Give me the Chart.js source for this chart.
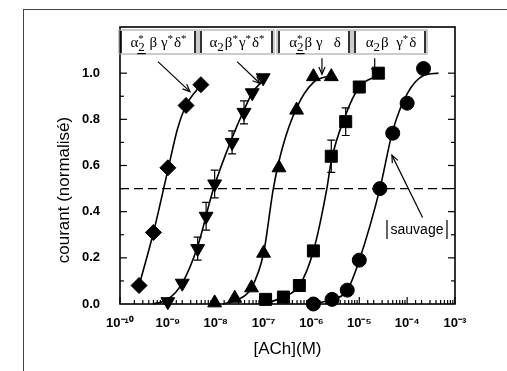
<!DOCTYPE html>
<html>
<head>
<meta charset="utf-8">
<script src="https://cdn.jsdelivr.net/npm/chart.js@4.4.1/dist/chart.umd.min.js"></script>
<style>
  body { margin: 0; background: #fff; }
  #wrap { position: relative; width: 507px; height: 371px; overflow: hidden; }
  #frame { position: absolute; left: 23px; top: 9px; right: 0; bottom: 0;
           border-top: 1.5px solid #444; border-left: 1.5px solid #444; }
  #c { position: absolute; left: 0; top: 0; }
</style>
</head>
<body>
<div id="wrap">
  <div id="frame"></div>
  <canvas id="c" width="507" height="371"></canvas>
</div>
<script>
// courbes dose-réponse ACh
const xTickLabels = ['10⁻¹⁰', '10⁻⁹', '10⁻⁸', '10⁻⁷', '10⁻⁶', '10⁻⁵', '10⁻⁴', '10⁻³'];
const yTickLabels = ['0.0', '0.2', '0.4', '0.6', '0.8', '1.0'];
const halfLevel = 0.5;

// α2*βγ*δ* (losanges)
const concA = [2.5e-10, 5e-10, 1e-9, 2.4e-9, 4.9e-9];
const respA = [0.08, 0.31, 0.59, 0.86, 0.95];
const errA  = [0, 0, 0, 0, 0];
const fitConcA = [2.5e-10, 5e-10, 1e-9, 1.6e-9, 2.4e-9, 4.9e-9];
const fitRespA = [0.08, 0.31, 0.58, 0.76, 0.86, 0.95];

// α2β*γ*δ* (triangles vers le bas)
const concB = [1e-9, 2e-9, 4.2e-9, 6.3e-9, 9.5e-9, 2.2e-8, 3.9e-8, 5.8e-8, 9.8e-8];
const respB = [0.01, 0.09, 0.24, 0.38, 0.52, 0.70, 0.83, 0.915, 0.98];
const errB  = [0, 0, 0.05, 0.06, 0.06, 0.05, 0.05, 0, 0];
const fitConcB = [5e-10, 1e-9, 2e-9, 4.2e-9, 9e-9, 2.2e-8, 3.9e-8, 6e-8, 1e-7];
const fitRespB = [0.0, 0.02, 0.09, 0.25, 0.50, 0.72, 0.84, 0.92, 0.97];

// α2*βγδ (triangles)
const concC = [9.5e-9, 2.5e-8, 5.6e-8, 1e-7, 2.1e-7, 4.9e-7, 1.1e-6, 2.6e-6];
const respC = [0.005, 0.025, 0.07, 0.22, 0.59, 0.84, 0.985, 0.985];
const errC  = [0, 0, 0, 0, 0, 0, 0, 0];
const fitConcC = [1.4e-8, 3e-8, 5.6e-8, 1e-7, 1.6e-7, 2.5e-7, 4.9e-7, 1.1e-6, 2.6e-6];
const fitRespC = [0.0, 0.02, 0.07, 0.22, 0.50, 0.68, 0.85, 0.96, 0.99];

// α2βγ*δ (carrés)
const concD = [1.1e-7, 2.6e-7, 5.6e-7, 1.1e-6, 2.6e-6, 5.2e-6, 1e-5, 2.5e-5];
const respD = [0.02, 0.03, 0.08, 0.23, 0.64, 0.79, 0.94, 1.0];
const errD  = [0, 0, 0, 0, 0.07, 0.06, 0, 0];
const fitConcD = [1e-7, 2.6e-7, 5.6e-7, 1.1e-6, 2.1e-6, 2.6e-6, 5.2e-6, 1e-5, 2.5e-5];
const fitRespD = [0.0, 0.03, 0.08, 0.23, 0.50, 0.62, 0.82, 0.94, 0.99];

// sauvage (cercles)
const concE = [1.1e-6, 2.7e-6, 5.6e-6, 1e-5, 2.7e-5, 5e-5, 1e-4, 2.2e-4];
const respE = [0.0, 0.02, 0.06, 0.19, 0.50, 0.74, 0.87, 1.02];
const errE  = [0, 0, 0, 0, 0, 0, 0, 0];
const fitConcE = [1e-6, 2.7e-6, 5.6e-6, 1e-5, 2.7e-5, 5e-5, 1e-4, 2.2e-4, 4.5e-4];
const fitRespE = [0.0, 0.02, 0.06, 0.19, 0.50, 0.75, 0.91, 0.99, 1.0];

const sans = '"Liberation Sans", Arial, sans-serif';
const serif = '"Liberation Serif", "DejaVu Serif", serif';

const pts = (xs, ys) => xs.map((x, i) => ({ x: x, y: ys[i] }));

function fitLine(xs, ys) {
  return {
    data: pts(xs, ys), showLine: true, pointRadius: 0, borderColor: '#000',
    borderWidth: 1.6, cubicInterpolationMode: 'monotone', clip: false
  };
}
function markers(xs, ys, style, radius, rotation) {
  return {
    data: pts(xs, ys), showLine: false, pointStyle: style, pointRadius: radius,
    pointRotation: rotation || 0, backgroundColor: '#000', borderColor: '#000',
    borderWidth: 1, clip: false
  };
}

const series = [
  { conc: concA, resp: respA, err: errA },
  { conc: concB, resp: respB, err: errB },
  { conc: concC, resp: respC, err: errC },
  { conc: concD, resp: respD, err: errD },
  { conc: concE, resp: respE, err: errE }
];

// étiquettes des sous-unités (α, β, γ, δ avec indices / exposants)
const labelBoxes = [
  { x0: 119, x1: 197, parts: [{ t: 'α' }, { sub: '2', sup: '*', ul: true }, { t: ' β γ' }, { sup: '*' }, { t: 'δ' }, { sup: '*' }] },
  { x0: 199, x1: 274, parts: [{ t: 'α' }, { sub: '2' }, { t: 'β' }, { sup: '*' }, { t: 'γ' }, { sup: '*' }, { t: 'δ' }, { sup: '*' }] },
  { x0: 277, x1: 351, parts: [{ t: 'α' }, { sub: '2', sup: '*', ul: true }, { t: 'β γ   δ' }] },
  { x0: 353, x1: 427, parts: [{ t: 'α' }, { sub: '2' }, { t: 'β  γ' }, { sup: '*' }, { t: 'δ' }] }
];
const arrows = [
  [6.2e-10, 1.05, 2.9e-9, 0.92],
  [2.8e-8, 1.05, 8.4e-8, 0.955],
  [1.66e-6, 1.065, 1.66e-6, 0.995],
  [2.1e-5, 1.065, 2.1e-5, 0.99],
  [2.1e-4, 0.375, 4.8e-5, 0.645]
];

function drawFormula(ctx, parts, cx, base) {
  const big = '15px ' + serif, subF = '13px ' + serif, supF = '11px ' + serif;
  let w = 0;
  parts.forEach(p => {
    if (p.t) { ctx.font = big; p.w = ctx.measureText(p.t).width; }
    else {
      ctx.font = subF; const a = p.sub ? ctx.measureText(p.sub).width : 0;
      ctx.font = supF; const b = p.sup ? ctx.measureText(p.sup).width : 0;
      p.w = Math.max(a, b) + 1;
    }
    w += p.w;
  });
  let x = cx - w / 2;
  ctx.textAlign = 'left';
  ctx.textBaseline = 'alphabetic';
  parts.forEach(p => {
    if (p.t) { ctx.font = big; ctx.fillText(p.t, x, base); }
    else {
      if (p.sub) {
        ctx.font = subF; ctx.fillText(p.sub, x, base + 4);
        if (p.ul) { ctx.fillRect(x - 1, base + 6, p.w + 1, 1.2); }
      }
      if (p.sup) { ctx.font = supF; ctx.fillText(p.sup, x, base - 5); }
    }
    x += p.w;
  });
}

function drawArrow(ctx, x0, y0, x1, y1) {
  ctx.beginPath(); ctx.moveTo(x0, y0); ctx.lineTo(x1, y1); ctx.stroke();
  const ang = Math.atan2(y1 - y0, x1 - x0), L = 8;
  ctx.beginPath();
  ctx.moveTo(x1 - L * Math.cos(ang - 0.4), y1 - L * Math.sin(ang - 0.4));
  ctx.lineTo(x1, y1);
  ctx.lineTo(x1 - L * Math.cos(ang + 0.4), y1 - L * Math.sin(ang + 0.4));
  ctx.stroke();
}

const decorations = {
  id: 'decorations',
  afterDraw(chart) {
    const ctx = chart.ctx, a = chart.chartArea;
    const xs = chart.scales.x, ys = chart.scales.y;
    ctx.save();
    ctx.strokeStyle = '#000'; ctx.fillStyle = '#000';

    // cadre
    ctx.lineWidth = 1.6;
    ctx.strokeRect(a.left, a.top, a.right - a.left, a.bottom - a.top);

    // graduations intérieures
    ctx.lineWidth = 1.2;
    xs.ticks.forEach(t => {
      const px = xs.getPixelForValue(t.value);
      const major = Math.abs(Math.log10(t.value) - Math.round(Math.log10(t.value))) < 1e-6;
      const len = major ? 7 : 4;
      ctx.beginPath(); ctx.moveTo(px, a.bottom); ctx.lineTo(px, a.bottom - len); ctx.stroke();
    });
    ys.ticks.forEach(t => {
      const k = Math.round(t.value * 10);
      if (k > 10 || k === 0) return;
      const py = ys.getPixelForValue(t.value);
      const len = k % 2 === 0 ? 7 : 4;
      ctx.beginPath(); ctx.moveTo(a.left, py); ctx.lineTo(a.left + len, py); ctx.stroke();
      ctx.beginPath(); ctx.moveTo(a.right, py); ctx.lineTo(a.right - len, py); ctx.stroke();
    });

    // barres d'erreur
    ctx.lineWidth = 1.2;
    series.forEach(s => {
      s.err.forEach((e, i) => {
        if (!e) return;
        const px = xs.getPixelForValue(s.conc[i]);
        const yt = ys.getPixelForValue(s.resp[i] + e);
        const yb = ys.getPixelForValue(s.resp[i] - e);
        ctx.beginPath();
        ctx.moveTo(px, yt); ctx.lineTo(px, yb);
        ctx.moveTo(px - 4, yt); ctx.lineTo(px + 4, yt);
        ctx.moveTo(px - 4, yb); ctx.lineTo(px + 4, yb);
        ctx.stroke();
      });
    });

    // boîtes d'étiquettes
    labelBoxes.forEach(b => {
      ctx.strokeStyle = '#999'; ctx.lineWidth = 1;
      ctx.strokeRect(b.x0, 30, b.x1 - b.x0, 24);
      ctx.strokeStyle = '#000'; ctx.lineWidth = 1.6;
      ctx.beginPath();
      ctx.moveTo(b.x0 + 2, 31); ctx.lineTo(b.x0 + 2, 53);
      ctx.moveTo(b.x1 - 2, 31); ctx.lineTo(b.x1 - 2, 53);
      ctx.stroke();
      drawFormula(ctx, b.parts, (b.x0 + b.x1) / 2 + 1, 47);
    });

    // flèches
    ctx.strokeStyle = '#000'; ctx.lineWidth = 1.2;
    arrows.forEach(r => {
      drawArrow(ctx, xs.getPixelForValue(r[0]), ys.getPixelForValue(r[1]),
                xs.getPixelForValue(r[2]), ys.getPixelForValue(r[3]));
    });

    // étiquette "sauvage"
    ctx.font = '14px ' + sans;
    ctx.textAlign = 'center'; ctx.textBaseline = 'middle';
    ctx.fillText('sauvage', 417, 230);
    ctx.lineWidth = 1.2;
    ctx.beginPath();
    ctx.moveTo(387, 220); ctx.lineTo(387, 239);
    ctx.moveTo(447, 220); ctx.lineTo(447, 239);
    ctx.stroke();

    // titre de l'axe y
    ctx.save();
    ctx.translate(64, 190);
    ctx.rotate(-Math.PI / 2);
    ctx.font = '17px ' + sans;
    ctx.textAlign = 'center'; ctx.textBaseline = 'middle';
    ctx.fillText('courant (normalisé)', 0, 0);
    ctx.restore();

    ctx.restore();
  }
};

new Chart(document.getElementById('c'), {
  type: 'scatter',
  data: {
    datasets: [
      fitLine(fitConcA, fitRespA),
      fitLine(fitConcB, fitRespB),
      fitLine(fitConcC, fitRespC),
      fitLine(fitConcD, fitRespD),
      fitLine(fitConcE, fitRespE),
      {
        data: [{ x: 1e-10, y: halfLevel }, { x: 1e-3, y: halfLevel }],
        showLine: true, pointRadius: 0, borderColor: '#000', borderWidth: 1.2,
        borderDash: [9, 5]
      },
      markers(concA, respA, 'rectRot', 8),
      markers(concB, respB, 'triangle', 8, 180),
      markers(concC, respC, 'triangle', 8),
      markers(concD, respD, 'rect', 8.5),
      markers(concE, respE, 'circle', 7)
    ]
  },
  options: {
    responsive: false,
    animation: false,
    devicePixelRatio: 1,
    layout: { padding: { left: 0, top: 27, right: 52, bottom: 0 } },
    plugins: { legend: { display: false }, tooltip: { enabled: false } },
    scales: {
      x: {
        type: 'logarithmic', min: 1e-10, max: 1e-3,
        grid: { display: false }, border: { display: false },
        ticks: {
          autoSkip: false, maxRotation: 0, padding: 4, color: '#000',
          font: { family: sans, size: 13, weight: 'bold' },
          callback: (v) => {
            const e = Math.log10(v), r = Math.round(e);
            return Math.abs(e - r) < 1e-6 ? xTickLabels[r + 10] : '';
          }
        },
        title: {
          display: true, text: '[ACh](M)', color: '#000',
          font: { family: sans, size: 17, lineHeight: 1.2 },
          padding: { top: 0, bottom: 11 }
        },
        afterFit: (s) => { s.height = 67; }
      },
      y: {
        min: 0, max: 1.2,
        grid: { display: false }, border: { display: false },
        ticks: {
          stepSize: 0.1, padding: 12, color: '#000',
          font: { family: sans, size: 13, weight: 'bold' },
          callback: (v) => {
            const k = Math.round(v * 10);
            return (k % 2 === 0 && k <= 10) ? yTickLabels[k / 2] : '';
          }
        },
        afterFit: (s) => { s.width = 120; }
      }
    }
  },
  plugins: [decorations]
});
</script>
</body>
</html>
